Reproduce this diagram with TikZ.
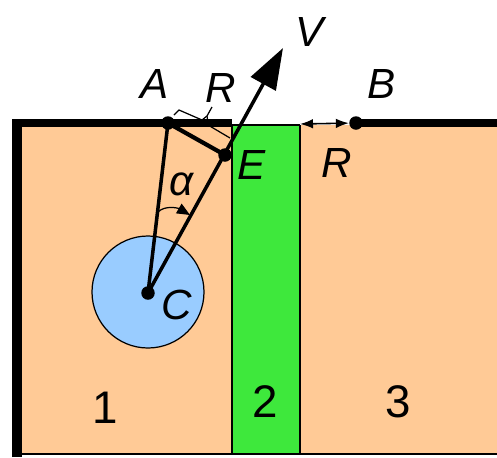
\documentclass[tikz,border=0pt]{standalone}
\usepackage{fontspec}
\setmainfont{Liberation Sans}
\usetikzlibrary{arrows.meta}
\definecolor{ZonePeach}{HTML}{FFCA96}
\definecolor{ZoneGreen}{HTML}{3EE83C}
\definecolor{ZoneBlue}{HTML}{99CCFF}

\begin{document}
\begin{tikzpicture}[
  x=0.02cm, y=-0.02cm,
  dot/.style={circle, fill=black, inner sep=0pt, minimum size=0.27cm},
  lbl/.style={font=\fontsize{24}{26}\selectfont\itshape, inner sep=0pt},
  num/.style={font=\fontsize{26}{28}\selectfont, inner sep=0pt},
  rod/.style={line width=2pt, draw=black},
  wall/.style={line width=5pt, draw=black}
]
\useasboundingbox (0,0) rectangle (497,457);
% zones
\fill[ZonePeach] (22,125) rectangle (497,454);
\fill[ZoneGreen] (232,125) rectangle (300,454);
\draw[line width=0.6pt] (232,125) -- (300,125);
\draw[line width=0.6pt] (300,125) -- (300,454);
\draw[line width=1.6pt] (232,125) -- (232,454);
\draw[line width=0.9pt] (12,454) -- (497,454);
% walls
\draw[line width=5.5pt] (17,457) -- (17,118.5);
\draw[wall] (12,123) -- (232,123);
\draw[wall] (356,123) -- (497,123);
% ball
\draw[fill=ZoneBlue, line width=0.7pt] (148,292) circle[radius=56];
% points
\node[dot] (A) at (168,123) {};
\node[dot] (E) at (225,155) {};
\node[dot] (C) at (148,293) {};
\node[dot] (B) at (356,123) {};
\coordinate (V) at (283,48);
\coordinate (R0) at (300,124);
\draw[rod] (A.center) -- (C.center);
\draw[line width=2.4pt] (A.center) -- (E.center);
\draw[rod, -{Triangle[length=0.82cm, width=0.56cm]}] (C.center) -- (V);
\draw[line width=0.9pt, {Latex[length=2.6mm, width=1.9mm]}-{Latex[length=2.6mm, width=1.9mm]}] (R0) -- (B);
% brace for R
\draw[line width=0.7pt] (174,115) -- (179,110) -- (202,120) -- (207,116) -- (212,107);
\draw[line width=0.7pt] (207,116) -- (208,123);
\draw[line width=0.7pt] (208,125) -- (230,138);
% angle alpha
\draw[line width=0.7pt, -{Triangle[length=2.6mm, width=2.2mm]}] (158,212) .. controls (165,205) and (178,208) .. (190,215);
% labels
\node[lbl] (lV) at (310,32) {V};
\node[lbl] (lA) at (155,84) {A};
\node[lbl] (lR) at (221,88) {R};
\node[lbl] (lB) at (382,84) {B};
\node[lbl] (lE) at (252,165) {E};
\node[lbl] (lR2) at (337,163) {R};
\node[lbl] (la) at (182,184) {α};
\node[lbl] (lC) at (177,305) {C};
\node[num] (n1) at (105,408) {1};
\node[num] (n2) at (265,402) {2};
\node[num] (n3) at (398,402) {3};
\end{tikzpicture}
\end{document}
